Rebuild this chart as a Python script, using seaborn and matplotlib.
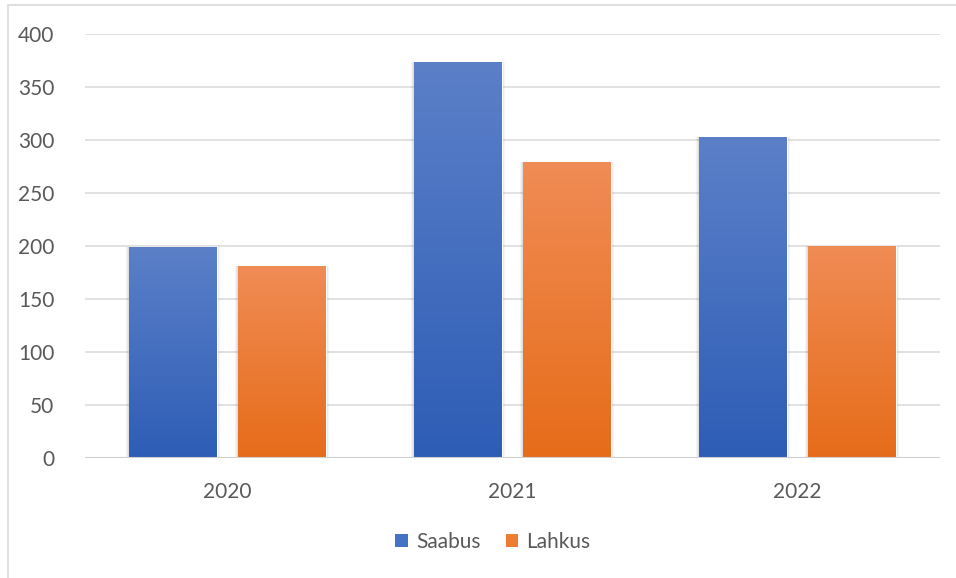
import numpy as np
import pandas as pd
import seaborn as sns
import matplotlib.pyplot as plt
from matplotlib.colors import LinearSegmentedColormap
from matplotlib.patches import Rectangle

years = ["2020", "2021", "2022"]
saabus = [199, 374, 303]
lahkus = [181, 279, 200]
series = ["Saabus", "Lahkus"]

# Office-like colours: (top, bottom) of the bar gradient
colors = {"Saabus": ("#5B80C8", "#2E5DB6"), "Lahkus": ("#F08C55", "#E66C19")}
solid = {"Saabus": "#4472C4", "Lahkus": "#ED7D31"}

df = pd.DataFrame({
    "Aasta": years * 2,
    "Arv": saabus + lahkus,
    "Suund": [series[0]] * 3 + [series[1]] * 3,
})

sns.set_style("white")
plt.rcParams["font.family"] = ["Lato", "DejaVu Sans"]

fig = plt.figure(figsize=(9.56, 5.78), dpi=100)
ax = fig.add_axes([85 / 956, 1 - 458 / 578, 855 / 956, 424 / 578])

sns.barplot(data=df, x="Aasta", y="Arv", hue="Suund", hue_order=series,
            palette=solid, width=0.76, gap=0.19, ax=ax, legend=False,
            errorbar=None, zorder=3)

# gradient fill + soft shadow on each bar
for cont, name in zip(ax.containers, series):
    cmap = LinearSegmentedColormap.from_list(name, [colors[name][1], colors[name][0]])
    for bar in cont:
        x0, y0 = bar.get_x(), bar.get_y()
        w, h = bar.get_width(), bar.get_height()
        for i, a in enumerate([0.07, 0.05, 0.04]):
            d = (i + 1) * 0.006
            sh = Rectangle((x0 - d * 0.6, y0 - d * 120), w + d * 1.2, h + d * 120,
                           facecolor="black", alpha=a, edgecolor="none", zorder=2)
            ax.add_patch(sh)
        grad = np.linspace(0, 1, 256).reshape(-1, 1)
        im = ax.imshow(grad, cmap=cmap, origin="lower", aspect="auto",
                       extent=(x0, x0 + w, y0, y0 + h), zorder=4)
        im.set_clip_path(bar)

ax.set_xlim(-0.5, 2.5)
ax.set_ylim(0, 400)
ax.set_yticks(range(0, 401, 50))
ax.grid(axis="y", color="#D9D9D9", linewidth=1.1, zorder=0)
ax.axhline(0, color="#D0D0D0", linewidth=1.5, zorder=5)
for s in ax.spines.values():
    s.set_visible(False)
ax.set_xlabel("")
ax.set_ylabel("")
ax.tick_params(axis="both", length=0, labelsize=15, labelcolor="#595959")
ax.tick_params(axis="y", pad=22)
ax.tick_params(axis="x", pad=17)

handles = [Rectangle((0, 0), 1, 1, facecolor=solid[n], edgecolor="none") for n in series]
fig.legend(handles, series, loc="center", bbox_to_anchor=(493 / 956, 1 - 542 / 578),
           ncol=2, frameon=False, handlelength=0.6, handleheight=0.6,
           handletextpad=0.4, columnspacing=1.2, fontsize=15, labelcolor="#595959")

# chart frame
fig.patches.append(Rectangle((8 / 956, -0.05), 1.2, 1 - 5 / 578 + 0.05,
                             transform=fig.transFigure, fill=False,
                             edgecolor="#D9D9D9", linewidth=1.2))

fig.savefig("out.png", dpi=100)
